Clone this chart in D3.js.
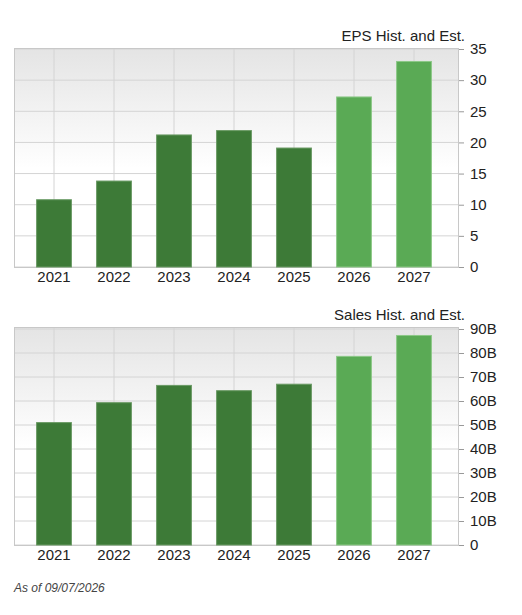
<!DOCTYPE html>
<html><head><meta charset="utf-8">
<script src="https://cdn.jsdelivr.net/npm/d3@7"></script>
<style>body{margin:0;background:#fff;font-family:"Liberation Sans",Arial,sans-serif}</style>
</head><body>
<svg id="c" width="522" height="615"></svg>
<script>
// data
const years = ['2021','2022','2023','2024','2025','2026','2027'];
const estimate = [false,false,false,false,false,true,true];
const eps = [10.8,13.8,21.2,21.9,19.1,27.3,33.0];
const sales = [51.0,59.3,66.5,64.3,67.0,78.6,87.3];
const epsTicks = [0,5,10,15,20,25,30,35];
const salesTicks = [0,10,20,30,40,50,60,70,80,90];

const svg = d3.select('#c');
const defs = svg.append('defs');
const grad = defs.append('linearGradient').attr('id','bg').attr('x1',0).attr('y1',0).attr('x2',0).attr('y2',1);
grad.append('stop').attr('offset','0%').attr('stop-color','#e4e4e4');
grad.append('stop').attr('offset','55%').attr('stop-color','#ffffff');
grad.append('stop').attr('offset','100%').attr('stop-color','#ffffff');

function panel(opts) {
	const { top, bottom, max, vals, ticks, fmt, title } = opts;
	const left = 14, right = 459;
	const x = d3.scaleBand().domain(years).range([24, 444]).paddingInner(0.42).paddingOuter(0.21);
	const y = d3.scaleLinear().domain([0, max]).range([bottom, opts.yTop]);
	const g = svg.append('g');

	g.append('rect').attr('x', left).attr('y', top).attr('width', right - left).attr('height', bottom - top)
		.attr('fill', 'url(#bg)');

	// horizontal grid
	g.selectAll('.hg').data(ticks).join('line')
		.attr('x1', left).attr('x2', right).attr('y1', d => y(d)).attr('y2', d => y(d))
		.attr('stroke', '#d4d4d4');
	// vertical grid at band centers
	g.selectAll('.vg').data(years).join('line')
		.attr('x1', d => x(d) + x.bandwidth() / 2).attr('x2', d => x(d) + x.bandwidth() / 2)
		.attr('y1', top).attr('y2', bottom).attr('stroke', '#d4d4d4');

	g.append('rect').attr('x', left + 0.5).attr('y', top + 0.5).attr('width', right - left - 1).attr('height', bottom - top)
		.attr('fill', 'none').attr('stroke', '#c8c8c8');

	g.selectAll('.bar').data(vals).join('rect')
		.attr('x', (d, i) => x(years[i])).attr('width', x.bandwidth())
		.attr('y', d => y(d)).attr('height', d => bottom - y(d))
		.attr('fill', (d, i) => estimate[i] ? '#5aaa55' : '#3d7a37')
		.attr('stroke', (d, i) => estimate[i] ? '#8cc887' : '#6a9a64').attr('stroke-width', 1);

	// right axis
	const ax = g.append('g').attr('transform', `translate(${right},0)`)
		.call(d3.axisRight(y).tickValues(ticks).tickFormat(fmt).tickSize(5).tickPadding(6));
	ax.select('.domain').remove();
	ax.selectAll('line').attr('stroke', '#999');
	ax.selectAll('text').attr('font-size', 15).attr('fill', '#222').attr('font-family', '"Liberation Sans",Arial,sans-serif');

	g.selectAll('.yl').data(years).join('text')
		.attr('x', d => x(d) + x.bandwidth() / 2).attr('y', bottom + 15)
		.attr('text-anchor', 'middle').attr('font-size', 15).attr('fill', '#222').text(d => d);

	g.append('text').attr('x', 465).attr('y', top - 7).attr('text-anchor', 'end')
		.attr('font-size', 15).attr('fill', '#222').text(title);
}

panel({ top: 48, yTop: 49, bottom: 267, max: 35, vals: eps, ticks: epsTicks, fmt: d => d, title: 'EPS Hist. and Est.' });
panel({ top: 327, yTop: 329, bottom: 545, max: 90, vals: sales, ticks: salesTicks, fmt: d => d === 0 ? '0' : d + 'B', title: 'Sales Hist. and Est.' });

svg.append('text').attr('x', 14).attr('y', 592).attr('font-size', 12).attr('font-style', 'italic')
	.attr('fill', '#444').text('As of 09/07/2026');
</script>
</body></html>
